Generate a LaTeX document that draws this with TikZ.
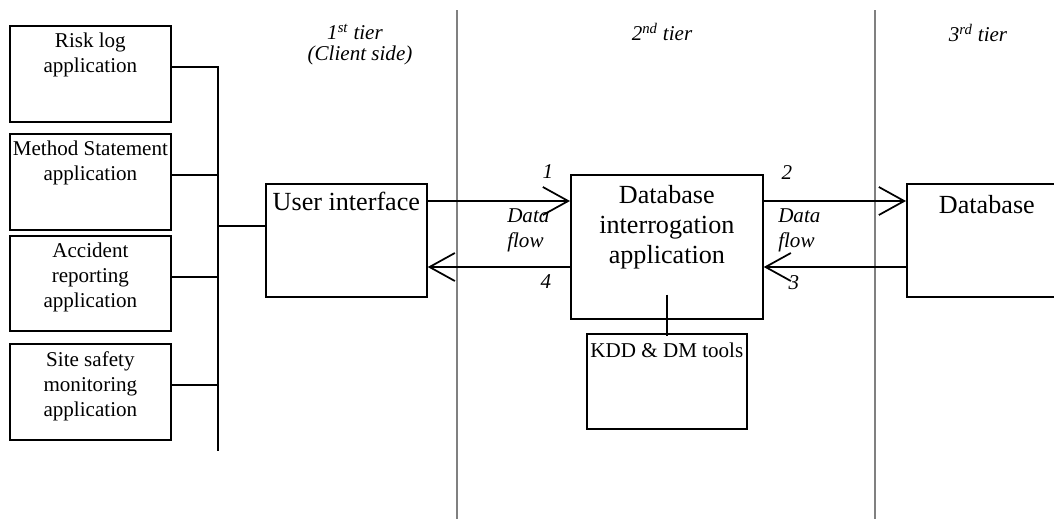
\documentclass[tikz,border=0pt]{standalone}
\usepackage{fontspec}
\setmainfont{Liberation Serif}
\usetikzlibrary{positioning,arrows.meta}

\tikzset{
    box/.style={draw, line width=1.3pt, inner sep=0pt, anchor=north west},
    boxtext/.style={align=center, inner sep=0pt, font=\fontsize{15.8}{18.75}\selectfont},
    bigtext/.style={align=center, inner sep=0pt, font=\fontsize{19.6}{22.5}\selectfont},
    flowtext/.style={inner sep=0pt, font=\fontsize{15.8}{18.75}\selectfont\itshape},
    wire/.style={line width=1.3pt},
    flow/.style={line width=1.3pt, -{Straight Barb[length=19pt,width=21pt,line width=1.3pt]}},
    tierline/.style={gray, line width=1pt}
}

\begin{document}
\begin{tikzpicture}[x=0.75pt, y=-0.75pt]
        \useasboundingbox (0,0) rectangle (1054,519);
        \clip (0,0) rectangle (1054,519);

        % tier borders
        \draw[tierline] (457,10) -- (457,519);
        \draw[tierline] (875,10) -- (875,519);

        % tier titles
        \node[flowtext] (tierone) at (355,32) {1\textsuperscript{st} tier};
        \node[flowtext] (clientside) at (360,55) {(Client side)};
        \node[flowtext] (tiertwo) at (662,32) {2\textsuperscript{nd} tier};
        \node[flowtext] (tierthree) at (978,33) {3\textsuperscript{rd} tier};

        % applications on the client side
        \node[box, minimum width=120.75pt, minimum height=72pt] (risk) at (9,25) {};
        \node[boxtext, below=6pt of risk.north] (risktext) {Risk log\\application};

        \node[box, minimum width=120.75pt, minimum height=72pt] (method) at (9,133) {};
        \node[boxtext, below=6pt of method.north] (methodtext) {Method Statement\\application};

        \node[box, minimum width=120.75pt, minimum height=71.25pt] (accident) at (9,235) {};
        \node[boxtext, below=6pt of accident.north] (accidenttext) {Accident\\reporting\\application};

        \node[box, minimum width=120.75pt, minimum height=72pt] (site) at (9,343) {};
        \node[boxtext, below=6pt of site.north] (sitetext) {Site safety\\monitoring\\application};

        % tiers
        \node[box, minimum width=120.75pt, minimum height=84.75pt] (ui) at (265,183) {};
        \node[bigtext, below=6.5pt of ui.north] (uitext) {User interface};

        \node[box, minimum width=144pt, minimum height=108pt] (dbi) at (570,174) {};
        \node[bigtext, below=8pt of dbi.north] (dbitext) {Database\\interrogation\\application};

        \node[box, minimum width=150pt, minimum height=84.75pt] (db) at (906,183) {};
        \node[bigtext, below=9pt of db.north, xshift=-15pt] (dbtext) {Database};

        \node[box, minimum width=120pt, minimum height=71.25pt] (kdd) at (586,333) {};
        \node[boxtext, below=7pt of kdd.north] (kddtext) {KDD \& DM tools};

        % bus joining the applications
        \coordinate (bus) at (218,451);
        \draw[wire] ([yshift=5pt]risk.east) -- ([yshift=5pt]risk.east -| bus) -- (bus);
        \foreach \app in {method,accident,site}{
            \draw[wire] ([yshift=5pt]\app.east) -- ([yshift=5pt]\app.east -| bus);
        }
        \draw[wire] ([yshift=11pt]ui.west) -- ([yshift=11pt]ui.west -| bus);

        % data flow between the tiers
        \draw[flow] ([yshift=-13.5pt]ui.north east) -- ([yshift=-13.5pt]ui.north east -| dbi.west);
        \draw[flow] ([yshift=-63pt]ui.north east -| dbi.west) -- ([yshift=-63pt]ui.north east);
        \draw[flow] ([yshift=-13.5pt]db.north west -| dbi.east) -- ([yshift=-13.5pt]db.north west);
        \draw[flow] ([yshift=-63pt]db.north west) -- ([yshift=-63pt]db.north west -| dbi.east);

        \node[flowtext] (one) at (548,172) {1};
        \node[flowtext, align=left, anchor=west] (flowa) at (507,230) {Data\\flow};
        \node[flowtext] (four) at (546,282) {4};
        \node[flowtext] (two) at (787,173) {2};
        \node[flowtext, align=left, anchor=west] (flowb) at (778,230) {Data\\flow};
        \node[flowtext] (three) at (794,283) {3};

        % link to the mining tools
        \draw[wire] ([yshift=18.75pt]dbi.south) -- ([yshift=-2pt]kdd.north);
    \end{tikzpicture}
\end{document}
